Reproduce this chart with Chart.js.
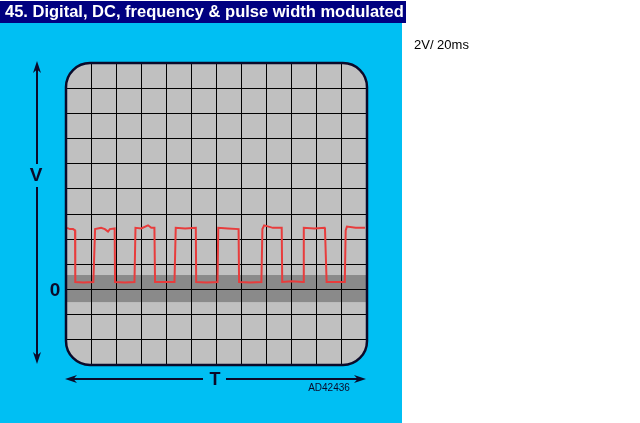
<!DOCTYPE html>
<html>
<head>
<meta charset="utf-8">
<script src="https://cdn.jsdelivr.net/npm/chart.js@4.4.1/dist/chart.umd.min.js"></script>
<style>
  body { margin: 0; background: #fff; }
  canvas { display: block; }
</style>
</head>
<body>
<canvas id="scope" width="640" height="423"></canvas>
<script>
// trace of the signal, time in ms, level in volts (2V/div, 20ms/div)
const timeMs = [0.8, 3.0, 5.6, 7.2, 7.4, 14, 21.8, 23.2, 28, 31, 33.5, 35, 38.8, 39.1,
  47, 54.6, 55.4, 60, 65.4, 68, 70.5, 71, 79, 86.5, 87.5, 95, 103.5, 103.8, 112, 120.8,
  121.4, 129, 137.6, 138, 147, 155.8, 156.6, 158, 165, 172, 172.4, 180, 189, 189.6,
  198, 206.2, 206.5, 207.8, 215, 222.3, 223, 224, 231, 238.4];
const volts = [4.9, 4.8, 4.8, 4.7, 0.6, 0.55, 0.6, 4.8, 4.9, 4.8, 4.6, 4.8, 4.85, 0.6,
  0.55, 0.6, 4.9, 4.85, 5.1, 4.9, 4.9, 0.6, 0.6, 0.6, 4.9, 4.85, 4.9, 0.6, 0.55, 0.6,
  4.9, 4.85, 4.8, 0.6, 0.55, 0.6, 4.8, 5.1, 4.9, 4.9, 0.6, 0.65, 0.6, 4.9,
  4.85, 4.9, 4.8, 0.6, 0.6, 0.6, 4.7, 5.0, 4.9, 4.9];

const xRange = [0, 240];      // 12 divisions of 20ms
const yRange = [-6, 18];      // 12 divisions of 2V
const bandVolts = [-1.0, 1.15];

const titleText = '45. Digital, DC, frequency & pulse width modulated';
const scaleText = '2V/ 20ms';
const refText = 'AD42436';

const cyan = '#00bff3';
const ink = '#0a0a2a';

// adds a rounded rectangle to the current path (no beginPath)
function roundRectPath(ctx, x, y, w, h, r) {
  ctx.moveTo(x + r, y);
  ctx.lineTo(x + w - r, y);
  ctx.arcTo(x + w, y, x + w, y + r, r);
  ctx.lineTo(x + w, y + h - r);
  ctx.arcTo(x + w, y + h, x + w - r, y + h, r);
  ctx.lineTo(x + r, y + h);
  ctx.arcTo(x, y + h, x, y + h - r, r);
  ctx.lineTo(x, y + r);
  ctx.arcTo(x, y, x + r, y, r);
  ctx.closePath();
}

function arrowHead(ctx, x, y, dx, dy) {
  // dx,dy = direction the tip points to
  const len = 12, half = 4;
  ctx.beginPath();
  ctx.moveTo(x, y);
  ctx.lineTo(x - dx * len - dy * half, y - dy * len - dx * half);
  ctx.lineTo(x - dx * len * 0.7, y - dy * len * 0.7);
  ctx.lineTo(x - dx * len + dy * half, y - dy * len + dx * half);
  ctx.closePath();
  ctx.fill();
}

const scopeDecor = {
  id: 'scopeDecor',
  beforeDraw(chart) {
    const ctx = chart.ctx, a = chart.chartArea;
    const y = chart.scales.y;
    ctx.save();
    ctx.fillStyle = '#fff';
    ctx.fillRect(0, 0, chart.width, chart.height);
    ctx.fillStyle = cyan;
    ctx.fillRect(0, 23, 402, chart.height - 23);
    ctx.fillStyle = '#000080';
    ctx.fillRect(0, 1, 406, 22);
    ctx.fillStyle = '#fff';
    ctx.font = 'bold 16.5px "Liberation Sans", Arial, sans-serif';
    ctx.textBaseline = 'middle';
    ctx.fillText(titleText, 5, 12.5);
    ctx.fillStyle = '#000';
    ctx.font = '13px "Liberation Sans", Arial, sans-serif';
    ctx.fillText(scaleText, 414, 45);

    // screen
    ctx.fillStyle = '#c0c0c0';
    ctx.beginPath();
    roundRectPath(ctx, a.left, a.top, a.right - a.left, a.bottom - a.top, 24);
    ctx.fill();
    const b1 = y.getPixelForValue(bandVolts[1]), b0 = y.getPixelForValue(bandVolts[0]);
    ctx.fillStyle = '#8a8a8a';
    ctx.fillRect(a.left, b1, a.right - a.left, b0 - b1);
    ctx.restore();
  },
  afterDraw(chart) {
    const ctx = chart.ctx, a = chart.chartArea;
    const w = a.right - a.left, h = a.bottom - a.top;
    ctx.save();
    // mask grid outside the rounded corners
    ctx.fillStyle = cyan;
    ctx.beginPath();
    ctx.rect(a.left - 3, a.top - 3, w + 6, h + 6);
    roundRectPath(ctx, a.left, a.top, w, h, 24);
    ctx.fill('evenodd');
    ctx.strokeStyle = ink;
    ctx.lineWidth = 2.5;
    ctx.beginPath();
    roundRectPath(ctx, a.left, a.top, w, h, 24);
    ctx.stroke();

    // V arrow
    ctx.fillStyle = ink;
    ctx.strokeStyle = ink;
    ctx.lineWidth = 2;
    ctx.beginPath();
    ctx.moveTo(37, 68); ctx.lineTo(37, 164);
    ctx.moveTo(37, 187); ctx.lineTo(37, 357);
    ctx.stroke();
    arrowHead(ctx, 37, 61, 0, -1);
    arrowHead(ctx, 37, 364, 0, 1);
    // T arrow
    ctx.beginPath();
    ctx.moveTo(71, 379); ctx.lineTo(203, 379);
    ctx.moveTo(226, 379); ctx.lineTo(359, 379);
    ctx.stroke();
    arrowHead(ctx, 65, 379, -1, 0);
    arrowHead(ctx, 366, 379, 1, 0);

    ctx.textAlign = 'center';
    ctx.textBaseline = 'middle';
    ctx.font = 'bold 19px "Liberation Sans", Arial, sans-serif';
    ctx.fillText('V', 36, 176);
    ctx.fillText('0', 55, 291);
    ctx.font = 'bold 18px "Liberation Sans", Arial, sans-serif';
    ctx.fillText('T', 215, 380);
    ctx.font = '10px "Liberation Sans", Arial, sans-serif';
    ctx.fillText(refText, 329, 388);
    ctx.restore();
  }
};

new Chart(document.getElementById('scope'), {
  type: 'line',
  data: {
    datasets: [{
      data: timeMs.map((t, i) => ({ x: t, y: volts[i] })),
      borderColor: '#e83c3c',
      borderWidth: 2,
      pointRadius: 0,
      tension: 0,
      fill: false
    }]
  },
  options: {
    responsive: false,
    animation: false,
    layout: { padding: { left: 66, top: 63, right: 273, bottom: 58 } },
    plugins: { legend: { display: false }, tooltip: { enabled: false } },
    scales: {
      x: {
        type: 'linear', min: xRange[0], max: xRange[1],
        ticks: { display: false, stepSize: 20 },
        grid: { color: '#000', lineWidth: 1, drawTicks: false },
        border: { display: false }
      },
      y: {
        min: yRange[0], max: yRange[1],
        ticks: { display: false, stepSize: 2 },
        grid: { color: '#000', lineWidth: 1, drawTicks: false },
        border: { display: false }
      }
    }
  },
  plugins: [scopeDecor]
});
</script>
</body>
</html>
